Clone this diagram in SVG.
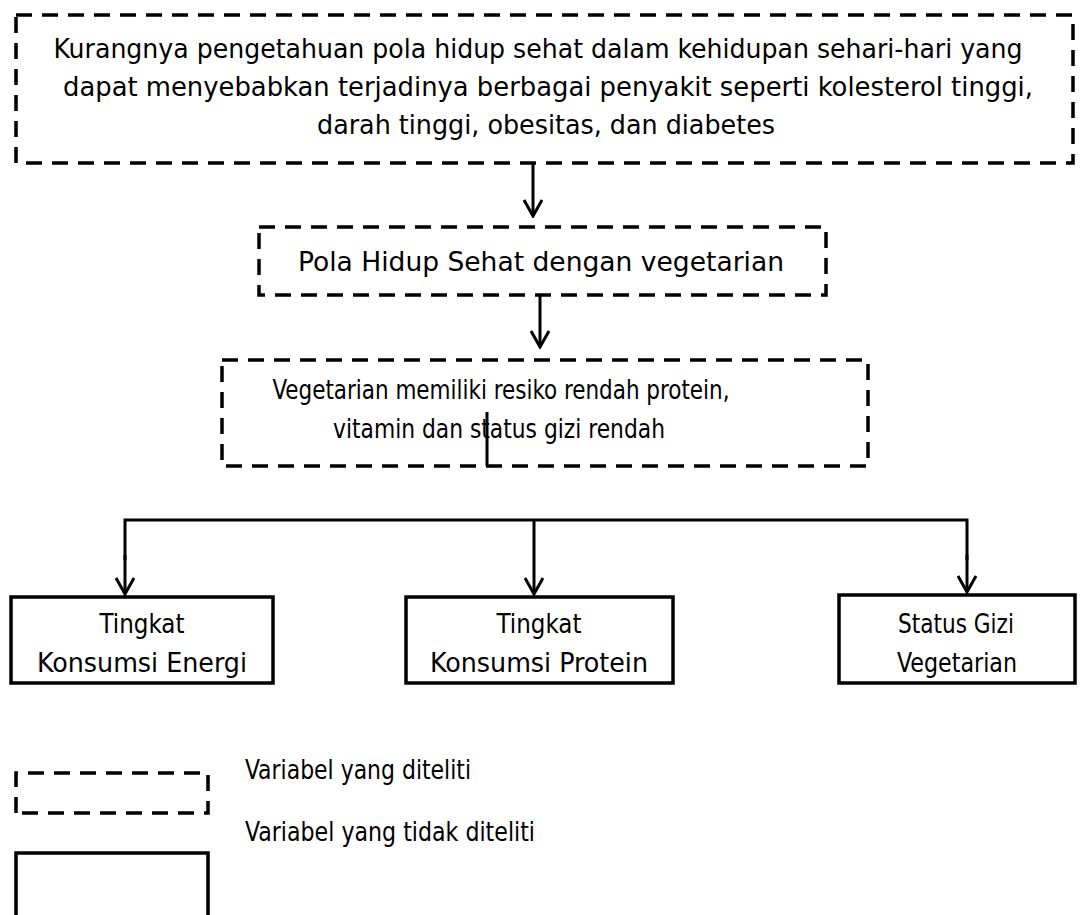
<svg xmlns="http://www.w3.org/2000/svg" width="1083" height="915" viewBox="0 0 1083 915">
<style>
  .dash { fill: none; stroke: #000; stroke-width: 3.5; stroke-dasharray: 16 10; }
  .solid { fill: none; stroke: #000; stroke-width: 3.5; }
  .conn { fill: none; stroke: #000; stroke-width: 3; }
  text { font-family: "DejaVu Sans Condensed", "DejaVu Sans", sans-serif; font-size: 26px; fill: #000; text-anchor: middle; }
  .lg { text-anchor: start; }
</style>
<defs>
  <marker id="arr" viewBox="0 0 20 20" refX="18" refY="10" markerWidth="20" markerHeight="20" markerUnits="userSpaceOnUse" orient="auto">
    <path d="M2,1 L18,10 L2,19" fill="none" stroke="#000" stroke-width="3"/>
  </marker>
</defs>
<rect width="1083" height="915" fill="#fff"/>

<g id="node-problem">
  <rect class="dash" x="16" y="15" width="1057" height="148"/>
  <text x="538" y="58" textLength="969" lengthAdjust="spacingAndGlyphs">Kurangnya pengetahuan pola hidup sehat dalam kehidupan sehari-hari yang</text>
  <text x="548" y="96" textLength="970" lengthAdjust="spacingAndGlyphs">dapat menyebabkan terjadinya berbagai penyakit seperti kolesterol tinggi,</text>
  <text x="546" y="134" textLength="458" lengthAdjust="spacingAndGlyphs">darah tinggi, obesitas, dan diabetes</text>
</g>

<g id="node-pola">
  <rect class="dash" x="259" y="227" width="567" height="68"/>
  <text x="541" y="271" textLength="486" lengthAdjust="spacingAndGlyphs">Pola Hidup Sehat dengan vegetarian</text>
</g>

<g id="node-risiko">
  <rect class="dash" x="222" y="360" width="646" height="106"/>
  <text x="501" y="399" textLength="457" lengthAdjust="spacingAndGlyphs">Vegetarian memiliki resiko rendah protein,</text>
  <text x="499" y="438" textLength="332" lengthAdjust="spacingAndGlyphs">vitamin dan status gizi rendah</text>
</g>

<g id="node-energi">
  <rect class="solid" x="11" y="597" width="262" height="86"/>
  <text x="142" y="633" textLength="85" lengthAdjust="spacingAndGlyphs">Tingkat</text>
  <text x="142" y="672" textLength="210" lengthAdjust="spacingAndGlyphs">Konsumsi Energi</text>
</g>

<g id="node-protein">
  <rect class="solid" x="406" y="597" width="267" height="86"/>
  <text x="539" y="633" textLength="85" lengthAdjust="spacingAndGlyphs">Tingkat</text>
  <text x="539" y="672" textLength="218" lengthAdjust="spacingAndGlyphs">Konsumsi Protein</text>
</g>

<g id="node-status">
  <rect class="solid" x="839" y="595" width="236" height="88"/>
  <text x="956" y="633" textLength="116" lengthAdjust="spacingAndGlyphs">Status Gizi</text>
  <text x="957" y="672" textLength="120" lengthAdjust="spacingAndGlyphs">Vegetarian</text>
</g>

<g id="legend">
  <path class="dash" d="M16,813 V773 H208 V813 Z"/>
  <text class="lg" x="245" y="779" textLength="226" lengthAdjust="spacingAndGlyphs">Variabel yang diteliti</text>
  <path class="solid" d="M16,920 V853 H208 V920"/>
  <text class="lg" x="245" y="841" textLength="290" lengthAdjust="spacingAndGlyphs">Variabel yang tidak diteliti</text>
</g>

<g id="connectors">
  <line class="conn" x1="533" y1="163" x2="533" y2="216" marker-end="url(#arr)"/>
  <line class="conn" x1="540" y1="295" x2="540" y2="347" marker-end="url(#arr)"/>
  <line class="conn" x1="487" y1="412" x2="487" y2="466"/>
  <polyline class="conn" points="125,560 125,520 967,520 967,560"/>
  <line class="conn" x1="125" y1="555" x2="125" y2="594" marker-end="url(#arr)"/>
  <line class="conn" x1="534" y1="520" x2="534" y2="594" marker-end="url(#arr)"/>
  <line class="conn" x1="967" y1="555" x2="967" y2="592" marker-end="url(#arr)"/>
</g>
</svg>
